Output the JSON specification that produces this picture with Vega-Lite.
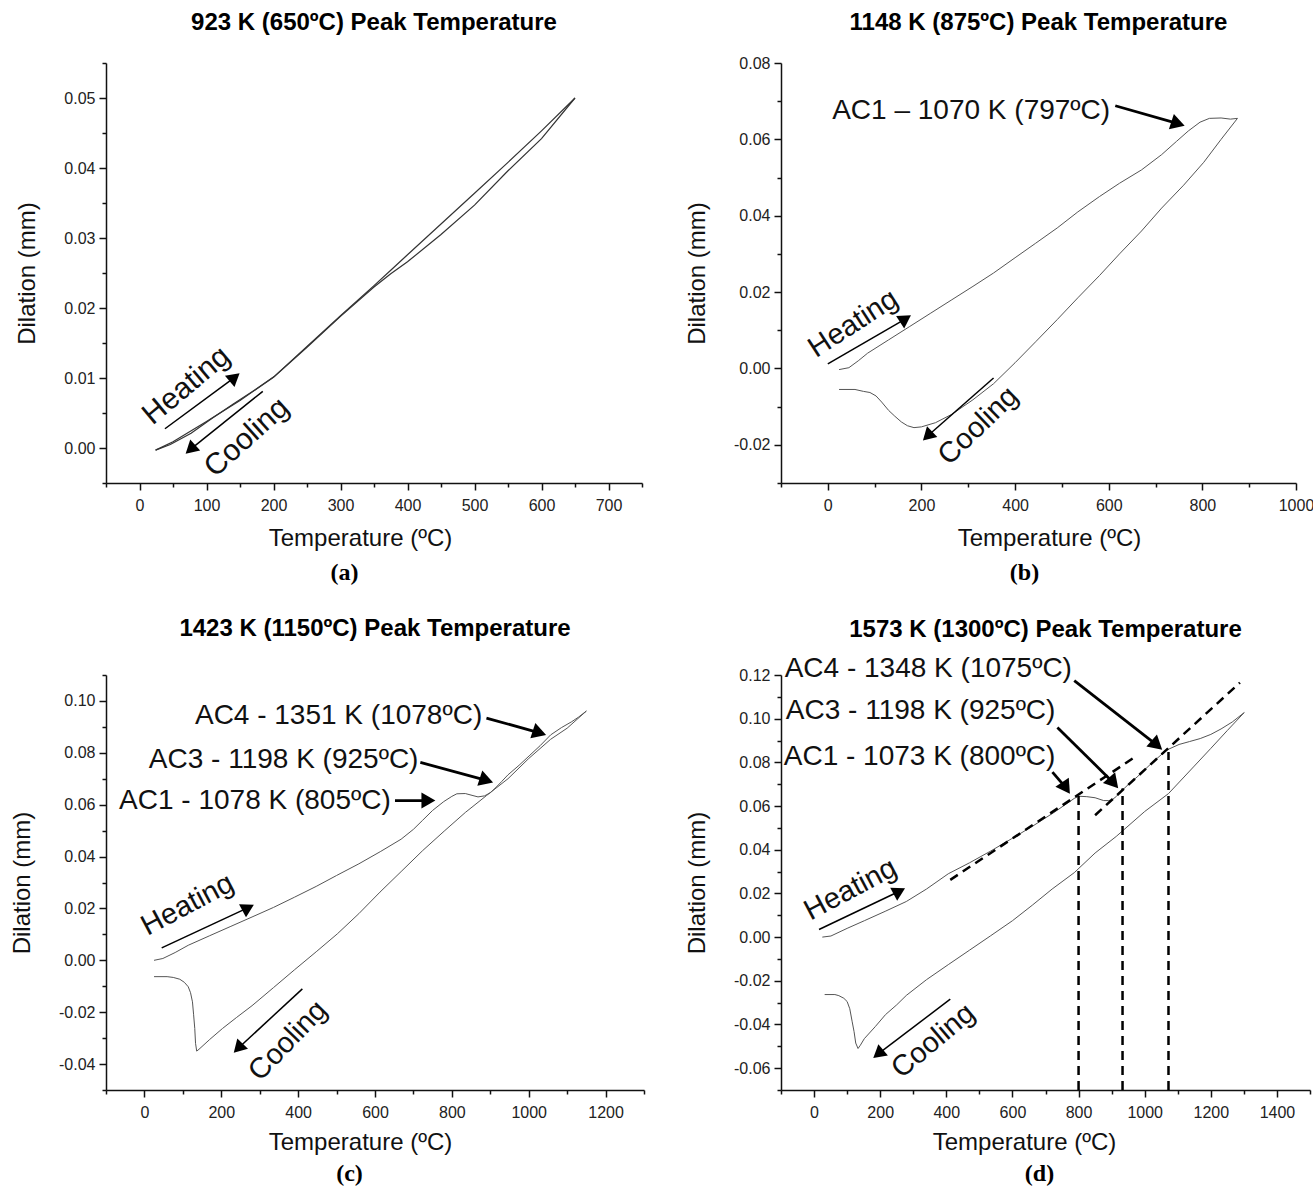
{
 "$schema": "https://vega.github.io/schema/vega-lite/v6.json",
 "background": "white",
 "padding": {"left": 10, "top": 11, "right": 0, "bottom": 0},
 "bounds": "flush",
 "columns": 2,
 "spacing": {"row": 192, "column": 137},
 "config": {
  "view": {"stroke": null},
  "font": "Liberation Sans",
  "axis": {"grid": false, "domainColor": "#111", "domainWidth": 1.5, "tickColor": "#111", "tickWidth": 1.5, "labelFont": "Liberation Sans", "labelFontSize": 16, "labelColor": "#222", "labelFlush": false, "labelOverlap": false, "titleFont": "Liberation Sans", "titleFontSize": 24, "titleFontWeight": "normal", "titleColor": "#111"},
  "title": {"font": "Liberation Sans", "fontSize": 24, "fontWeight": "bold", "color": "#000", "anchor": "middle", "frame": "group"}
 },
 "datasets": {
  "a_curve": [
   {"run":"Heating","T":24,"D":-0.0003},{"run":"Heating","T":46,"D":0.0005},{"run":"Heating","T":77,"D":0.0021},{"run":"Heating","T":109,"D":0.0043},{"run":"Heating","T":140,"D":0.0063},{"run":"Heating","T":172,"D":0.0083},{"run":"Heating","T":201,"D":0.0102},{"run":"Heating","T":250,"D":0.0145},{"run":"Heating","T":300,"D":0.0189},{"run":"Heating","T":350,"D":0.0232},{"run":"Heating","T":375,"D":0.0254},{"run":"Heating","T":400,"D":0.0276},{"run":"Heating","T":450,"D":0.032},{"run":"Heating","T":500,"D":0.0364},{"run":"Heating","T":550,"D":0.0408},{"run":"Heating","T":600,"D":0.0453},{"run":"Heating","T":650,"D":0.05},
   {"run":"Cooling","T":650,"D":0.05},{"run":"Cooling","T":600,"D":0.0442},{"run":"Cooling","T":550,"D":0.0396},{"run":"Cooling","T":500,"D":0.0347},{"run":"Cooling","T":450,"D":0.0305},{"run":"Cooling","T":400,"D":0.0266},{"run":"Cooling","T":375,"D":0.0249},{"run":"Cooling","T":350,"D":0.023},{"run":"Cooling","T":300,"D":0.0188},{"run":"Cooling","T":250,"D":0.0144},{"run":"Cooling","T":200,"D":0.0101},{"run":"Cooling","T":150,"D":0.0068},{"run":"Cooling","T":100,"D":0.0038},{"run":"Cooling","T":50,"D":0.0009},{"run":"Cooling","T":24,"D":-0.0003}
  ],
  "a_arrow": [
   {"k":"heat","T":38,"D":0.00275,"T2":142,"D2":0.0101},
   {"k":"cool","T":184,"D":0.0081,"T2":76,"D2":-0.0002}
  ],
  "a_text": [
   {"k":"heat","T":70,"D":0.0089,"label":"Heating"},
   {"k":"cool","T":160,"D":0.0015,"label":"Cooling"}
  ],
  "b_curve": [
   {"run":"Heating","T":24,"D":-0.0003},{"run":"Heating","T":45,"D":0.0002},{"run":"Heating","T":65,"D":0.002},{"run":"Heating","T":85,"D":0.004},{"run":"Heating","T":130,"D":0.0075},{"run":"Heating","T":175,"D":0.011},{"run":"Heating","T":220,"D":0.0145},{"run":"Heating","T":265,"D":0.018},{"run":"Heating","T":310,"D":0.0215},{"run":"Heating","T":354,"D":0.025},{"run":"Heating","T":400,"D":0.029},{"run":"Heating","T":444,"D":0.0328},{"run":"Heating","T":490,"D":0.0368},{"run":"Heating","T":534,"D":0.041},{"run":"Heating","T":580,"D":0.045},{"run":"Heating","T":623,"D":0.0485},{"run":"Heating","T":670,"D":0.052},{"run":"Heating","T":713,"D":0.056},{"run":"Heating","T":745,"D":0.0595},{"run":"Heating","T":770,"D":0.0622},{"run":"Heating","T":795,"D":0.0645},{"run":"Heating","T":815,"D":0.0655},{"run":"Heating","T":840,"D":0.0656},{"run":"Heating","T":860,"D":0.0653},{"run":"Heating","T":875,"D":0.0655},
   {"run":"Cooling","T":875,"D":0.0655},{"run":"Cooling","T":840,"D":0.06},{"run":"Cooling","T":803,"D":0.054},{"run":"Cooling","T":760,"D":0.048},{"run":"Cooling","T":713,"D":0.042},{"run":"Cooling","T":670,"D":0.036},{"run":"Cooling","T":623,"D":0.03},{"run":"Cooling","T":580,"D":0.0243},{"run":"Cooling","T":534,"D":0.0185},{"run":"Cooling","T":490,"D":0.0128},{"run":"Cooling","T":444,"D":0.007},{"run":"Cooling","T":400,"D":0.0015},{"run":"Cooling","T":354,"D":-0.004},{"run":"Cooling","T":310,"D":-0.0082},{"run":"Cooling","T":265,"D":-0.012},{"run":"Cooling","T":230,"D":-0.0142},{"run":"Cooling","T":200,"D":-0.0153},{"run":"Cooling","T":184,"D":-0.0155},{"run":"Cooling","T":170,"D":-0.015},{"run":"Cooling","T":157,"D":-0.014},{"run":"Cooling","T":143,"D":-0.0125},{"run":"Cooling","T":130,"D":-0.011},{"run":"Cooling","T":115,"D":-0.0088},{"run":"Cooling","T":103,"D":-0.0072},{"run":"Cooling","T":90,"D":-0.0063},{"run":"Cooling","T":76,"D":-0.006},{"run":"Cooling","T":58,"D":-0.0055},{"run":"Cooling","T":24,"D":-0.0055}
  ],
  "b_arrow": [
   {"k":"heat","T":0,"D":0.0012,"T2":166,"D2":0.013},
   {"k":"cool","T":354,"D":-0.0025,"T2":213,"D2":-0.0177},
   {"k":"ac1","T":614,"D":0.0688,"T2":748,"D2":0.0641}
  ],
  "b_text": [
   {"k":"heat","T":54,"D":0.0118,"label":"Heating"},
   {"k":"cool","T":321,"D":-0.015,"label":"Cooling"},
   {"k":"ac1","T":603,"D":0.0675,"label":"AC1 – 1070 K (797ºC)"}
  ],
  "c_curve": [
   {"run":"Heating","T":25,"D":0},{"run":"Heating","T":48,"D":0.0007},{"run":"Heating","T":80,"D":0.003},{"run":"Heating","T":114,"D":0.0058},{"run":"Heating","T":170,"D":0.0095},{"run":"Heating","T":225,"D":0.0131},{"run":"Heating","T":280,"D":0.0167},{"run":"Heating","T":336,"D":0.0204},{"run":"Heating","T":390,"D":0.0243},{"run":"Heating","T":447,"D":0.0285},{"run":"Heating","T":500,"D":0.0327},{"run":"Heating","T":558,"D":0.0372},{"run":"Heating","T":615,"D":0.042},{"run":"Heating","T":668,"D":0.0467},{"run":"Heating","T":700,"D":0.0505},{"run":"Heating","T":724,"D":0.054},{"run":"Heating","T":750,"D":0.0578},{"run":"Heating","T":779,"D":0.0612},{"run":"Heating","T":800,"D":0.0632},{"run":"Heating","T":813,"D":0.0642},{"run":"Heating","T":835,"D":0.0643},{"run":"Heating","T":855,"D":0.0635},{"run":"Heating","T":868,"D":0.063},{"run":"Heating","T":885,"D":0.0634},{"run":"Heating","T":900,"D":0.0646},{"run":"Heating","T":913,"D":0.0664},{"run":"Heating","T":930,"D":0.069},{"run":"Heating","T":946,"D":0.0715},{"run":"Heating","T":975,"D":0.0752},{"run":"Heating","T":1001,"D":0.0788},{"run":"Heating","T":1030,"D":0.0828},{"run":"Heating","T":1057,"D":0.0869},{"run":"Heating","T":1085,"D":0.0897},{"run":"Heating","T":1112,"D":0.092},{"run":"Heating","T":1130,"D":0.0938},{"run":"Heating","T":1150,"D":0.0961},
   {"run":"Cooling","T":1150,"D":0.0961},{"run":"Cooling","T":1100,"D":0.0895},{"run":"Cooling","T":1057,"D":0.0852},{"run":"Cooling","T":1000,"D":0.0778},{"run":"Cooling","T":946,"D":0.07},{"run":"Cooling","T":890,"D":0.0635},{"run":"Cooling","T":835,"D":0.057},{"run":"Cooling","T":780,"D":0.0498},{"run":"Cooling","T":724,"D":0.0423},{"run":"Cooling","T":670,"D":0.0345},{"run":"Cooling","T":613,"D":0.0263},{"run":"Cooling","T":558,"D":0.018},{"run":"Cooling","T":502,"D":0.0102},{"run":"Cooling","T":447,"D":0.0033},{"run":"Cooling","T":391,"D":-0.0036},{"run":"Cooling","T":336,"D":-0.0105},{"run":"Cooling","T":280,"D":-0.0175},{"run":"Cooling","T":240,"D":-0.022},{"run":"Cooling","T":203,"D":-0.0263},{"run":"Cooling","T":170,"D":-0.0305},{"run":"Cooling","T":142,"D":-0.0343},{"run":"Cooling","T":136,"D":-0.035},{"run":"Cooling","T":133,"D":-0.032},{"run":"Cooling","T":131,"D":-0.0263},{"run":"Cooling","T":128,"D":-0.021},{"run":"Cooling","T":125,"D":-0.016},{"run":"Cooling","T":120,"D":-0.0125},{"run":"Cooling","T":114,"D":-0.0102},{"run":"Cooling","T":104,"D":-0.0085},{"run":"Cooling","T":92,"D":-0.0073},{"run":"Cooling","T":75,"D":-0.0066},{"run":"Cooling","T":59,"D":-0.0063},{"run":"Cooling","T":25,"D":-0.0063}
  ],
  "c_arrow": [
   {"k":"heat","T":45,"D":0.0048,"T2":270,"D2":0.0203},
   {"k":"cool","T":411,"D":-0.011,"T2":244,"D2":-0.0339},
   {"k":"ac4","T":890,"D":0.0934,"T2":1028,"D2":0.0877},
   {"k":"ac3","T":718,"D":0.0763,"T2":890,"D2":0.0694},
   {"k":"ac1","T":652,"D":0.0616,"T2":739,"D2":0.0616}
  ],
  "c_text": [
   {"k":"heat","T":112,"D":0.0215,"label":"Heating"},
   {"k":"cool","T":373,"D":-0.031,"label":"Cooling"},
   {"k":"ac4","T":879,"D":0.0942,"label":"AC4 - 1351 K (1078ºC)"},
   {"k":"ac3","T":713,"D":0.0772,"label":"AC3 - 1198 K (925ºC)"},
   {"k":"ac1","T":641,"D":0.0613,"label":"AC1 - 1078 K (805ºC)"}
  ],
  "d_curve": [
   {"run":"Heating","T":25,"D":0},{"run":"Heating","T":51,"D":0.0005},{"run":"Heating","T":100,"D":0.004},{"run":"Heating","T":152,"D":0.0075},{"run":"Heating","T":215,"D":0.0118},{"run":"Heating","T":279,"D":0.0163},{"run":"Heating","T":340,"D":0.022},{"run":"Heating","T":406,"D":0.029},{"run":"Heating","T":470,"D":0.034},{"run":"Heating","T":533,"D":0.0393},{"run":"Heating","T":597,"D":0.045},{"run":"Heating","T":660,"D":0.0507},{"run":"Heating","T":725,"D":0.057},{"run":"Heating","T":787,"D":0.0635},{"run":"Heating","T":800,"D":0.0645},{"run":"Heating","T":825,"D":0.0643},{"run":"Heating","T":850,"D":0.0638},{"run":"Heating","T":876,"D":0.0625},{"run":"Heating","T":890,"D":0.0625},{"run":"Heating","T":901,"D":0.0628},{"run":"Heating","T":915,"D":0.0645},{"run":"Heating","T":926,"D":0.0663},{"run":"Heating","T":950,"D":0.0698},{"run":"Heating","T":977,"D":0.0733},{"run":"Heating","T":1020,"D":0.0795},{"run":"Heating","T":1066,"D":0.0856},{"run":"Heating","T":1104,"D":0.0882},{"run":"Heating","T":1135,"D":0.0895},{"run":"Heating","T":1168,"D":0.0909},{"run":"Heating","T":1200,"D":0.0928},{"run":"Heating","T":1231,"D":0.0953},{"run":"Heating","T":1265,"D":0.0985},{"run":"Heating","T":1301,"D":0.1028},
   {"run":"Cooling","T":1301,"D":0.1028},{"run":"Cooling","T":1250,"D":0.0946},{"run":"Cooling","T":1200,"D":0.0864},{"run":"Cooling","T":1150,"D":0.0783},{"run":"Cooling","T":1072,"D":0.0657},{"run":"Cooling","T":1000,"D":0.0575},{"run":"Cooling","T":914,"D":0.0461},{"run":"Cooling","T":850,"D":0.0385},{"run":"Cooling","T":787,"D":0.0295},{"run":"Cooling","T":720,"D":0.022},{"run":"Cooling","T":660,"D":0.0146},{"run":"Cooling","T":600,"D":0.0075},{"run":"Cooling","T":533,"D":0.0005},{"run":"Cooling","T":470,"D":-0.006},{"run":"Cooling","T":406,"D":-0.0126},{"run":"Cooling","T":340,"D":-0.0195},{"run":"Cooling","T":279,"D":-0.0267},{"run":"Cooling","T":250,"D":-0.031},{"run":"Cooling","T":216,"D":-0.0355},{"run":"Cooling","T":185,"D":-0.041},{"run":"Cooling","T":152,"D":-0.0465},{"run":"Cooling","T":140,"D":-0.0495},{"run":"Cooling","T":133,"D":-0.051},{"run":"Cooling","T":126,"D":-0.0485},{"run":"Cooling","T":121,"D":-0.0433},{"run":"Cooling","T":115,"D":-0.0385},{"run":"Cooling","T":108,"D":-0.0328},{"run":"Cooling","T":100,"D":-0.0295},{"run":"Cooling","T":90,"D":-0.028},{"run":"Cooling","T":75,"D":-0.0268},{"run":"Cooling","T":63,"D":-0.0263},{"run":"Cooling","T":32,"D":-0.0263}
  ],
  "d_arrow": [
   {"k":"heat","T":15,"D":0.0035,"T2":258,"D2":0.021},
   {"k":"cool","T":412,"D":-0.0284,"T2":194,"D2":-0.0535},
   {"k":"ac4","T":787,"D":0.1174,"T2":1037,"D2":0.0879},
   {"k":"ac3","T":736,"D":0.096,"T2":906,"D2":0.0706},
   {"k":"ac1","T":721,"D":0.0755,"T2":762,"D2":0.0683}
  ],
  "d_text": [
   {"k":"heat","T":110,"D":0.0219,"label":"Heating"},
   {"k":"cool","T":360,"D":-0.0475,"label":"Cooling"},
   {"k":"ac4","T":780,"D":0.1226,"label":"AC4 - 1348 K (1075ºC)"},
   {"k":"ac3","T":730,"D":0.1035,"label":"AC3 - 1198 K (925ºC)"},
   {"k":"ac1","T":730,"D":0.0825,"label":"AC1 - 1073 K (800ºC)"}
  ],
  "d_dash": [
   {"T":800,"D":-0.07,"T2":800,"D2":0.0646},
   {"T":933,"D":-0.07,"T2":933,"D2":0.068},
   {"T":1072,"D":-0.07,"T2":1072,"D2":0.0847},
   {"T":412,"D":0.0262,"T2":964,"D2":0.0818},
   {"T":850,"D":0.0558,"T2":1288,"D2":0.1165}
  ]
 },
 "concat": [
   {
     "width": 536, "height": 420,
     "title": {"text": "923 K (650ºC) Peak Temperature", "offset": 27},
     "resolve": {"axis": {"x": "independent", "y": "independent"}},
     "layer": [
      {"data": {"name": "a_curve"}, "mark": {"type": "line", "color": "#333", "strokeWidth": 1.2},
       "encoding": {
        "x": {"field": "T", "type": "quantitative", "scale": {"domain": [-50, 750], "nice": false, "zero": false},
              "axis": {"orient": "bottom", "values": [0,100,200,300,400,500,600,700], "format": "d", "title": "Temperature (ºC)", "titleX": 254, "tickSize": 7, "labelPadding": 7, "titlePadding": 13}},
        "y": {"field": "D", "type": "quantitative", "scale": {"domain": [-0.005, 0.055], "nice": false, "zero": false},
              "axis": {"orient": "left", "values": [0,0.01,0.02,0.03,0.04,0.05], "labelExpr": "replace(format(datum.value,'.2f'),'−','-')", "title": "Dilation (mm)", "tickSize": 7, "labelPadding": 4, "titlePadding": 24}},
        "detail": {"field": "run"}}},
      {"data": {"name": "a_arrow"}, "mark": {"type": "rule", "color": "#000", "strokeWidth": 1.5},
       "encoding": {
        "x": {"field": "T", "type": "quantitative", "axis": {"orient": "bottom", "values": [-50,50,150,250,350,450,550,650,750], "labels": false, "domain": false, "tickSize": 4, "title": "(a)", "titleX": 238, "titleFont": "Liberation Serif", "titleFontWeight": "bold", "titleFontSize": 24, "titlePadding": 73, "titleColor": "#000"}},
        "y": {"field": "D", "type": "quantitative", "axis": {"orient": "left", "values": [-0.005,0.005,0.015,0.025,0.035,0.045,0.055], "labels": false, "domain": false, "tickSize": 4, "title": null}},
        "x2": {"field": "T2"}, "y2": {"field": "D2"}}},
      {"data": {"name": "a_arrow"}, "transform": [{"filter": "datum.k=='heat'"}],
       "mark": {"type": "point", "shape": "triangle-up", "filled": true, "color": "#000", "opacity": 1, "size": 220, "angle": 50},
       "encoding": {"x": {"field": "T2", "type": "quantitative", "axis": null}, "y": {"field": "D2", "type": "quantitative", "axis": null}}},
      {"data": {"name": "a_arrow"}, "transform": [{"filter": "datum.k=='cool'"}],
       "mark": {"type": "point", "shape": "triangle-up", "filled": true, "color": "#000", "opacity": 1, "size": 220, "angle": 228},
       "encoding": {"x": {"field": "T2", "type": "quantitative", "axis": null}, "y": {"field": "D2", "type": "quantitative", "axis": null}}},
      {"data": {"name": "a_text"}, "transform": [{"filter": "datum.k=='heat'"}],
       "mark": {"type": "text", "fontSize": 30, "angle": 320, "color": "#111"},
       "encoding": {"x": {"field": "T", "type": "quantitative", "axis": null}, "y": {"field": "D", "type": "quantitative", "axis": null}, "text": {"field": "label"}}},
      {"data": {"name": "a_text"}, "transform": [{"filter": "datum.k=='cool'"}],
       "mark": {"type": "text", "fontSize": 30, "angle": 318, "color": "#111"},
       "encoding": {"x": {"field": "T", "type": "quantitative", "axis": null}, "y": {"field": "D", "type": "quantitative", "axis": null}, "text": {"field": "label"}}}
     ]
   },
   {
     "width": 515, "height": 420,
     "title": {"text": "1148 K (875ºC) Peak Temperature", "offset": 20},
     "resolve": {"axis": {"x": "independent", "y": "independent"}},
     "layer": [
      {"data": {"name": "b_curve"}, "mark": {"type": "line", "color": "#555", "strokeWidth": 1},
       "encoding": {
        "x": {"field": "T", "type": "quantitative", "scale": {"domain": [-100, 1000], "nice": false, "zero": false},
              "axis": {"orient": "bottom", "values": [0,200,400,600,800,1000], "format": "d", "title": "Temperature (ºC)", "titleX": 268, "tickSize": 7, "labelPadding": 7, "titlePadding": 13}},
        "y": {"field": "D", "type": "quantitative", "scale": {"domain": [-0.03, 0.08], "nice": false, "zero": false},
              "axis": {"orient": "left", "values": [-0.02,0,0.02,0.04,0.06,0.08], "labelExpr": "replace(format(datum.value,'.2f'),'−','-')", "title": "Dilation (mm)", "tickSize": 7, "labelPadding": 4, "titlePadding": 24}},
        "detail": {"field": "run"}}},
      {"data": {"name": "b_arrow"}, "transform": [{"filter": "datum.k=='heat' || datum.k=='cool'"}], "mark": {"type": "rule", "color": "#000", "strokeWidth": 1.5},
       "encoding": {
        "x": {"field": "T", "type": "quantitative", "axis": {"orient": "bottom", "values": [-100,100,300,500,700,900], "labels": false, "domain": false, "tickSize": 4, "title": "(b)", "titleX": 243, "titleFont": "Liberation Serif", "titleFontWeight": "bold", "titleFontSize": 24, "titlePadding": 73, "titleColor": "#000"}},
        "y": {"field": "D", "type": "quantitative", "axis": {"orient": "left", "values": [-0.03,-0.01,0.01,0.03,0.05,0.07], "labels": false, "domain": false, "tickSize": 4, "title": null}},
        "x2": {"field": "T2"}, "y2": {"field": "D2"}}},
      {"data": {"name": "b_arrow"}, "transform": [{"filter": "datum.k=='ac1'"}], "mark": {"type": "rule", "color": "#000", "strokeWidth": 2.8},
       "encoding": {"x": {"field": "T", "type": "quantitative", "axis": null}, "y": {"field": "D", "type": "quantitative", "axis": null}, "x2": {"field": "T2"}, "y2": {"field": "D2"}}},
      {"data": {"name": "b_arrow"}, "transform": [{"filter": "datum.k=='heat'"}],
       "mark": {"type": "point", "shape": "triangle-up", "filled": true, "color": "#000", "opacity": 1, "size": 220, "angle": 57},
       "encoding": {"x": {"field": "T2", "type": "quantitative", "axis": null}, "y": {"field": "D2", "type": "quantitative", "axis": null}}},
      {"data": {"name": "b_arrow"}, "transform": [{"filter": "datum.k=='cool'"}],
       "mark": {"type": "point", "shape": "triangle-up", "filled": true, "color": "#000", "opacity": 1, "size": 220, "angle": 226},
       "encoding": {"x": {"field": "T2", "type": "quantitative", "axis": null}, "y": {"field": "D2", "type": "quantitative", "axis": null}}},
      {"data": {"name": "b_arrow"}, "transform": [{"filter": "datum.k=='ac1'"}],
       "mark": {"type": "point", "shape": "triangle-up", "filled": true, "color": "#000", "opacity": 1, "size": 260, "angle": 108},
       "encoding": {"x": {"field": "T2", "type": "quantitative", "axis": null}, "y": {"field": "D2", "type": "quantitative", "axis": null}}},
      {"data": {"name": "b_text"}, "transform": [{"filter": "datum.k=='heat'"}],
       "mark": {"type": "text", "fontSize": 29, "angle": 327, "color": "#111"},
       "encoding": {"x": {"field": "T", "type": "quantitative", "axis": null}, "y": {"field": "D", "type": "quantitative", "axis": null}, "text": {"field": "label"}}},
      {"data": {"name": "b_text"}, "transform": [{"filter": "datum.k=='cool'"}],
       "mark": {"type": "text", "fontSize": 29, "angle": 316, "color": "#111"},
       "encoding": {"x": {"field": "T", "type": "quantitative", "axis": null}, "y": {"field": "D", "type": "quantitative", "axis": null}, "text": {"field": "label"}}},
      {"data": {"name": "b_text"}, "transform": [{"filter": "datum.k=='ac1'"}],
       "mark": {"type": "text", "fontSize": 28, "align": "right", "baseline": "middle", "color": "#111"},
       "encoding": {"x": {"field": "T", "type": "quantitative", "axis": null}, "y": {"field": "D", "type": "quantitative", "axis": null}, "text": {"field": "label"}}}
     ]
   },
   {
     "width": 538, "height": 415,
     "title": {"text": "1423 K (1150ºC) Peak Temperature", "offset": 33},
     "resolve": {"axis": {"x": "independent", "y": "independent"}},
     "layer": [
      {"data": {"name": "c_curve"}, "mark": {"type": "line", "color": "#555", "strokeWidth": 1},
       "encoding": {
        "x": {"field": "T", "type": "quantitative", "scale": {"domain": [-100, 1300], "nice": false, "zero": false},
              "axis": {"orient": "bottom", "values": [0,200,400,600,800,1000,1200], "format": "d", "title": "Temperature (ºC)", "titleX": 254, "tickSize": 7, "labelPadding": 7, "titlePadding": 10}},
        "y": {"field": "D", "type": "quantitative", "scale": {"domain": [-0.05, 0.11], "nice": false, "zero": false},
              "axis": {"orient": "left", "values": [-0.04,-0.02,0,0.02,0.04,0.06,0.08,0.1], "labelExpr": "replace(format(datum.value,'.2f'),'−','-')", "title": "Dilation (mm)", "tickSize": 7, "labelPadding": 4, "titlePadding": 24}},
        "detail": {"field": "run"}}},
      {"data": {"name": "c_arrow"}, "transform": [{"filter": "datum.k=='heat' || datum.k=='cool'"}], "mark": {"type": "rule", "color": "#000", "strokeWidth": 1.5},
       "encoding": {
        "x": {"field": "T", "type": "quantitative", "axis": {"orient": "bottom", "values": [-100,100,300,500,700,900,1100,1300], "labels": false, "domain": false, "tickSize": 4, "title": "(c)", "titleX": 243, "titleFont": "Liberation Serif", "titleFontWeight": "bold", "titleFontSize": 24, "titlePadding": 67, "titleColor": "#000"}},
        "y": {"field": "D", "type": "quantitative", "axis": {"orient": "left", "values": [-0.05,-0.03,-0.01,0.01,0.03,0.05,0.07,0.09,0.11], "labels": false, "domain": false, "tickSize": 4, "title": null}},
        "x2": {"field": "T2"}, "y2": {"field": "D2"}}},
      {"data": {"name": "c_arrow"}, "transform": [{"filter": "datum.k!='heat' && datum.k!='cool'"}], "mark": {"type": "rule", "color": "#000", "strokeWidth": 2.8},
       "encoding": {"x": {"field": "T", "type": "quantitative", "axis": null}, "y": {"field": "D", "type": "quantitative", "axis": null}, "x2": {"field": "T2"}, "y2": {"field": "D2"}}},
      {"data": {"name": "c_arrow"}, "transform": [{"filter": "datum.k=='heat'"}],
       "mark": {"type": "point", "shape": "triangle-up", "filled": true, "color": "#000", "opacity": 1, "size": 220, "angle": 62},
       "encoding": {"x": {"field": "T2", "type": "quantitative", "axis": null}, "y": {"field": "D2", "type": "quantitative", "axis": null}}},
      {"data": {"name": "c_arrow"}, "transform": [{"filter": "datum.k=='cool'"}],
       "mark": {"type": "point", "shape": "triangle-up", "filled": true, "color": "#000", "opacity": 1, "size": 220, "angle": 224},
       "encoding": {"x": {"field": "T2", "type": "quantitative", "axis": null}, "y": {"field": "D2", "type": "quantitative", "axis": null}}},
      {"data": {"name": "c_arrow"}, "transform": [{"filter": "datum.k=='ac4' || datum.k=='ac3'"}],
       "mark": {"type": "point", "shape": "triangle-up", "filled": true, "color": "#000", "opacity": 1, "size": 260, "angle": 108},
       "encoding": {"x": {"field": "T2", "type": "quantitative", "axis": null}, "y": {"field": "D2", "type": "quantitative", "axis": null}}},
      {"data": {"name": "c_arrow"}, "transform": [{"filter": "datum.k=='ac1'"}],
       "mark": {"type": "point", "shape": "triangle-up", "filled": true, "color": "#000", "opacity": 1, "size": 260, "angle": 90},
       "encoding": {"x": {"field": "T2", "type": "quantitative", "axis": null}, "y": {"field": "D2", "type": "quantitative", "axis": null}}},
      {"data": {"name": "c_text"}, "transform": [{"filter": "datum.k=='heat'"}],
       "mark": {"type": "text", "fontSize": 29, "angle": 332, "color": "#111"},
       "encoding": {"x": {"field": "T", "type": "quantitative", "axis": null}, "y": {"field": "D", "type": "quantitative", "axis": null}, "text": {"field": "label"}}},
      {"data": {"name": "c_text"}, "transform": [{"filter": "datum.k=='cool'"}],
       "mark": {"type": "text", "fontSize": 29, "angle": 314, "color": "#111"},
       "encoding": {"x": {"field": "T", "type": "quantitative", "axis": null}, "y": {"field": "D", "type": "quantitative", "axis": null}, "text": {"field": "label"}}},
      {"data": {"name": "c_text"}, "transform": [{"filter": "datum.k!='heat' && datum.k!='cool'"}],
       "mark": {"type": "text", "fontSize": 28, "align": "right", "baseline": "middle", "color": "#111"},
       "encoding": {"x": {"field": "T", "type": "quantitative", "axis": null}, "y": {"field": "D", "type": "quantitative", "axis": null}, "text": {"field": "label"}}}
     ]
   },
   {
     "width": 529, "height": 415,
     "title": {"text": "1573 K (1300ºC) Peak Temperature", "offset": 13},
     "resolve": {"axis": {"x": "independent", "y": "independent"}},
     "layer": [
      {"data": {"name": "d_curve"}, "mark": {"type": "line", "color": "#555", "strokeWidth": 1},
       "encoding": {
        "x": {"field": "T", "type": "quantitative", "scale": {"domain": [-100, 1500], "nice": false, "zero": false},
              "axis": {"orient": "bottom", "values": [0,200,400,600,800,1000,1200,1400], "format": "d", "title": "Temperature (ºC)", "titleX": 243, "tickSize": 7, "labelPadding": 7, "titlePadding": 10}},
        "y": {"field": "D", "type": "quantitative", "scale": {"domain": [-0.07, 0.12], "nice": false, "zero": false},
              "axis": {"orient": "left", "values": [-0.06,-0.04,-0.02,0,0.02,0.04,0.06,0.08,0.1,0.12], "labelExpr": "replace(format(datum.value,'.2f'),'−','-')", "title": "Dilation (mm)", "tickSize": 7, "labelPadding": 4, "titlePadding": 24}},
        "detail": {"field": "run"}}},
      {"data": {"name": "d_arrow"}, "transform": [{"filter": "datum.k=='heat' || datum.k=='cool'"}], "mark": {"type": "rule", "color": "#000", "strokeWidth": 1.5},
       "encoding": {
        "x": {"field": "T", "type": "quantitative", "axis": {"orient": "bottom", "values": [-100,100,300,500,700,900,1100,1300,1500], "labels": false, "domain": false, "tickSize": 4, "title": "(d)", "titleX": 258, "titleFont": "Liberation Serif", "titleFontWeight": "bold", "titleFontSize": 24, "titlePadding": 67, "titleColor": "#000"}},
        "y": {"field": "D", "type": "quantitative", "axis": {"orient": "left", "values": [-0.07,-0.05,-0.03,-0.01,0.01,0.03,0.05,0.07,0.09,0.11], "labels": false, "domain": false, "tickSize": 4, "title": null}},
        "x2": {"field": "T2"}, "y2": {"field": "D2"}}},
      {"data": {"name": "d_dash"}, "mark": {"type": "rule", "color": "#000", "strokeWidth": 2.5, "strokeDash": [9, 6]},
       "encoding": {"x": {"field": "T", "type": "quantitative", "axis": null}, "y": {"field": "D", "type": "quantitative", "axis": null}, "x2": {"field": "T2"}, "y2": {"field": "D2"}}},
      {"data": {"name": "d_arrow"}, "transform": [{"filter": "datum.k!='heat' && datum.k!='cool'"}], "mark": {"type": "rule", "color": "#000", "strokeWidth": 2.8},
       "encoding": {"x": {"field": "T", "type": "quantitative", "axis": null}, "y": {"field": "D", "type": "quantitative", "axis": null}, "x2": {"field": "T2"}, "y2": {"field": "D2"}}},
      {"data": {"name": "d_arrow"}, "transform": [{"filter": "datum.k=='heat'"}],
       "mark": {"type": "point", "shape": "triangle-up", "filled": true, "color": "#000", "opacity": 1, "size": 220, "angle": 62},
       "encoding": {"x": {"field": "T2", "type": "quantitative", "axis": null}, "y": {"field": "D2", "type": "quantitative", "axis": null}}},
      {"data": {"name": "d_arrow"}, "transform": [{"filter": "datum.k=='cool'"}],
       "mark": {"type": "point", "shape": "triangle-up", "filled": true, "color": "#000", "opacity": 1, "size": 220, "angle": 230},
       "encoding": {"x": {"field": "T2", "type": "quantitative", "axis": null}, "y": {"field": "D2", "type": "quantitative", "axis": null}}},
      {"data": {"name": "d_arrow"}, "transform": [{"filter": "datum.k=='ac4'"}],
       "mark": {"type": "point", "shape": "triangle-up", "filled": true, "color": "#000", "opacity": 1, "size": 260, "angle": 131},
       "encoding": {"x": {"field": "T2", "type": "quantitative", "axis": null}, "y": {"field": "D2", "type": "quantitative", "axis": null}}},
      {"data": {"name": "d_arrow"}, "transform": [{"filter": "datum.k=='ac3'"}],
       "mark": {"type": "point", "shape": "triangle-up", "filled": true, "color": "#000", "opacity": 1, "size": 260, "angle": 139},
       "encoding": {"x": {"field": "T2", "type": "quantitative", "axis": null}, "y": {"field": "D2", "type": "quantitative", "axis": null}}},
      {"data": {"name": "d_arrow"}, "transform": [{"filter": "datum.k=='ac1'"}],
       "mark": {"type": "point", "shape": "triangle-up", "filled": true, "color": "#000", "opacity": 1, "size": 260, "angle": 146},
       "encoding": {"x": {"field": "T2", "type": "quantitative", "axis": null}, "y": {"field": "D2", "type": "quantitative", "axis": null}}},
      {"data": {"name": "d_text"}, "transform": [{"filter": "datum.k=='heat'"}],
       "mark": {"type": "text", "fontSize": 29, "angle": 332, "color": "#111"},
       "encoding": {"x": {"field": "T", "type": "quantitative", "axis": null}, "y": {"field": "D", "type": "quantitative", "axis": null}, "text": {"field": "label"}}},
      {"data": {"name": "d_text"}, "transform": [{"filter": "datum.k=='cool'"}],
       "mark": {"type": "text", "fontSize": 29, "angle": 320, "color": "#111"},
       "encoding": {"x": {"field": "T", "type": "quantitative", "axis": null}, "y": {"field": "D", "type": "quantitative", "axis": null}, "text": {"field": "label"}}},
      {"data": {"name": "d_text"}, "transform": [{"filter": "datum.k!='heat' && datum.k!='cool'"}],
       "mark": {"type": "text", "fontSize": 28, "align": "right", "baseline": "middle", "color": "#111"},
       "encoding": {"x": {"field": "T", "type": "quantitative", "axis": null}, "y": {"field": "D", "type": "quantitative", "axis": null}, "text": {"field": "label"}}}
     ]
   }
 ]
}
